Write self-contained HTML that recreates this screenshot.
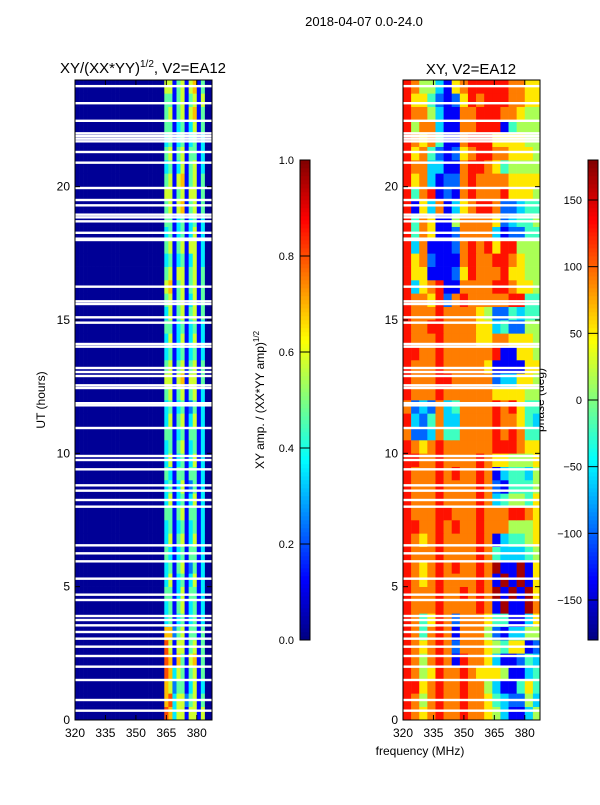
<!DOCTYPE html>
<html><head><meta charset="utf-8"><style>
body{margin:0;background:#fff}
svg text{font-family:"Liberation Sans","DejaVu Sans",sans-serif;fill:#000}
</style></head><body>
<svg id="fig" width="600" height="800" viewBox="0 0 600 800" xmlns="http://www.w3.org/2000/svg">
<rect width="600" height="800" fill="#fff"/>
<text x="364" y="26" font-size="13" text-anchor="middle">2018-04-07 0.0-24.0</text>
<text x="143" y="73" font-size="15" text-anchor="middle">XY/(XX*YY)<tspan font-size="10" dy="-6">1/2</tspan><tspan dy="6">, V2=EA12</tspan></text>
<text x="471" y="74" font-size="15" text-anchor="middle">XY, V2=EA12</text>
<text x="420" y="755" font-size="12" text-anchor="middle">frequency (MHz)</text>
<text transform="translate(45,400) rotate(-90)" font-size="12" text-anchor="middle">UT (hours)</text>
<text transform="translate(264,400) rotate(-90)" font-size="12" text-anchor="middle">XY amp. / (XX*YY amp)<tspan font-size="8" dy="-5">1/2</tspan></text>
<text transform="translate(544,400) rotate(-90)" font-size="12" text-anchor="middle">phase (deg)</text>
<g id="left"></g>
<g id="right"></g>
<g id="axes"></g>
<g id="cbars"></g>
</svg>
<script>
// time rows start at 0h, 0.5h step; left columns 2 MHz from 320; right columns 4 MHz from 320
const ampPrefix = "1111111111111111111111";
const ampRows = ["874662662611","784663562511","763552462411","874652562511","872752672511","862662562511","773562552511","452452452411",
"452562452411","552462552411","462452462411","452562352411","542452552411","462562462411","452452452411","552562552411",
"462452462411","452462352411","542552552411","462452462411","452562452411","552452552411","462562462411","452452352411",
"562562562411","662672662511","562562562511","452452452411","462462462411","552452452411","462562562511","562562462511",
"672562562511","562662562511","452452462411","562562662411","452452462411","552452452411","562672562511","662562662511",
"562672562511","452462562411","562562552411","452452452411","552452462511","562562672511","552562562611","662562672511"];
const phaseRows = ["87678778776531135","87578778776432253","88678778775311464","87568778766651134","87578718776311243","87678727776546612","87478717775213355","87468727776441136",
"87778777787191197","87778778787919196","87678777787191916","87678787787911916","87778777787433345","87678777787134456","88778787787775556","87778877787778876",
"87778777787345546","87778777787214445","87778787787134435","88778777787665556","87678777777888766","72237447777878744","83247337777877643","72327347777878644",
"87778777777666655","87778877777233665","87778777776111166","88778777777811665","87778777766776665","87788777766342255","87778777765224344","87768278777778844",
"83678117777887665","86611126877786655","86721117877887655","83711127878688555","84761127777312244","84761157777623445","81637136788722344","84781217877786665",
"86731227877776666","87733117887645555","86742126788776665","87674117888666655","85773117788814555","87753117788877655","86642126878887766","87553167888887766"];
const flagTimes = [0.35,0.75,1.5,2.0,2.4,2.75,3.05,3.3,3.55,3.75,3.9,4.5,4.7,5.3,5.95,6.25,6.55,8.0,8.25,8.6,8.8,9.4,9.75,9.9,10.95,11.8,11.88,12.45,12.55,12.9,13.05,13.2,14.0,14.1,14.9,15.1,15.6,15.7,16.25,18.0,18.05,18.27,18.7,18.85,18.95,19.3,19.5,19.95,20.9,21.3,21.7,21.8,21.9,22.0,22.47,23.13,23.77];
const freqTicks = [320,335,350,365,380];
const timeTicks = [0,5,10,15,20];
const ampTicks = [0.0,0.2,0.4,0.6,0.8,1.0];
const phaseTicks = [-150,-100,-50,0,50,100,150];
const ampTickLabels = ["0.0","0.2","0.4","0.6","0.8","1.0"];
const phaseTickLabels = ["\u2212150","\u2212100","\u221250","0","50","100","150"];

const NS="http://www.w3.org/2000/svg";
const F0=320,F1=387.5,PW=137,T1=24,Y0=720,PH=640;
const xs=(ox,f)=>ox+(f-F0)*PW/(F1-F0);
const ys=t=>Y0-t*PH/T1;
function jet(v){v=Math.max(0,Math.min(1,v));
 const r=Math.max(0,Math.min(1,1.5-Math.abs(4*v-3))),g=Math.max(0,Math.min(1,1.5-Math.abs(4*v-2))),b=Math.max(0,Math.min(1,1.5-Math.abs(4*v-1)));
 return `rgb(${Math.round(r*255)},${Math.round(g*255)},${Math.round(b*255)})`;}
function mk(tag,attrs,parent){const e=document.createElementNS(NS,tag);for(const k in attrs)e.setAttribute(k,attrs[k]);parent.appendChild(e);return e;}
const L=document.getElementById('left'),R=document.getElementById('right'),A=document.getElementById('axes'),C=document.getElementById('cbars');

ampRows.forEach((row,i)=>{const s=ampPrefix+row;const t0=i*0.5;
 for(let j=0;j<s.length;j++){const f0=F0+j*2,f1=Math.min(F1,f0+2);if(f0>=F1)break;
  const v=(+s[j]-0.8)/9;
  const x0=xs(75,f0),x1=xs(75,f1);
  const r=mk('rect',{x:x0,y:ys(t0+0.5),width:x1-x0+0.3,height:PH/T1/2+0.3,fill:jet(v)},L);
  
  }});
phaseRows.forEach((row,i)=>{const t0=i*0.5;
 for(let j=0;j<row.length;j++){const f0=F0+j*4,f1=Math.min(F1,f0+4);if(f0>=F1)break;
  const ph=-175+(+row[j])*38;const v=(ph+180)/360;
  const x0=xs(403,f0),x1=xs(403,f1);
  const r=mk('rect',{x:x0,y:ys(t0+0.5),width:x1-x0+0.3,height:PH/T1/2+0.3,fill:jet(v)},R);
  
  }});
[75,403].forEach(ox=>{flagTimes.forEach(t=>{
  const r=mk('rect',{x:ox,y:ys(t)-1.2,width:PW,height:2.4,fill:'#fff'},A);
  
  });
 const fr=mk('rect',{x:ox,y:80,width:PW,height:PH,fill:'none',stroke:'#000','stroke-width':1},A);
 
 
 freqTicks.forEach(f=>{const x=xs(ox,f);
  mk('line',{x1:x,x2:x,y1:720,y2:715,stroke:'#000'},A);mk('line',{x1:x,x2:x,y1:80,y2:85,stroke:'#000'},A);
  const tx=mk('text',{x:x,y:737,'font-size':12,'text-anchor':'middle'},A);tx.textContent=f;
  
  });
 timeTicks.forEach(t=>{const y=ys(t);
  mk('line',{x1:ox,x2:ox+5,y1:y,y2:y,stroke:'#000'},A);mk('line',{x1:ox+PW,x2:ox+PW-5,y1:y,y2:y,stroke:'#000'},A);
  const tx=mk('text',{x:ox-5,y:y+4,'font-size':12,'text-anchor':'end'},A);tx.textContent=t;
  
  });});
function cbar(ox,vmin,vmax,ticks,labels,name){
 for(let k=0;k<120;k++){const v=k/120;
  mk('rect',{x:ox,y:640-(k+1)*4,width:10,height:4.3,fill:jet(v+1/240)},C);}
 const fr=mk('rect',{x:ox,y:160,width:10,height:480,fill:'none',stroke:'#000'},C);
 
 
 ticks.forEach((tv,i)=>{const y=640-(tv-vmin)/(vmax-vmin)*480;
  mk('line',{x1:ox,x2:ox+10,y1:y,y2:y,stroke:'#000'},C);
  const tx=mk('text',{x:ox-6,y:y+4,'font-size':11,'text-anchor':'end'},C);tx.textContent=labels[i];
  
  });}
cbar(300,0,1,ampTicks,ampTickLabels,'amp-colorbar');
cbar(588,-180,180,phaseTicks,phaseTickLabels,'phase-colorbar');
</script>
</body></html>
